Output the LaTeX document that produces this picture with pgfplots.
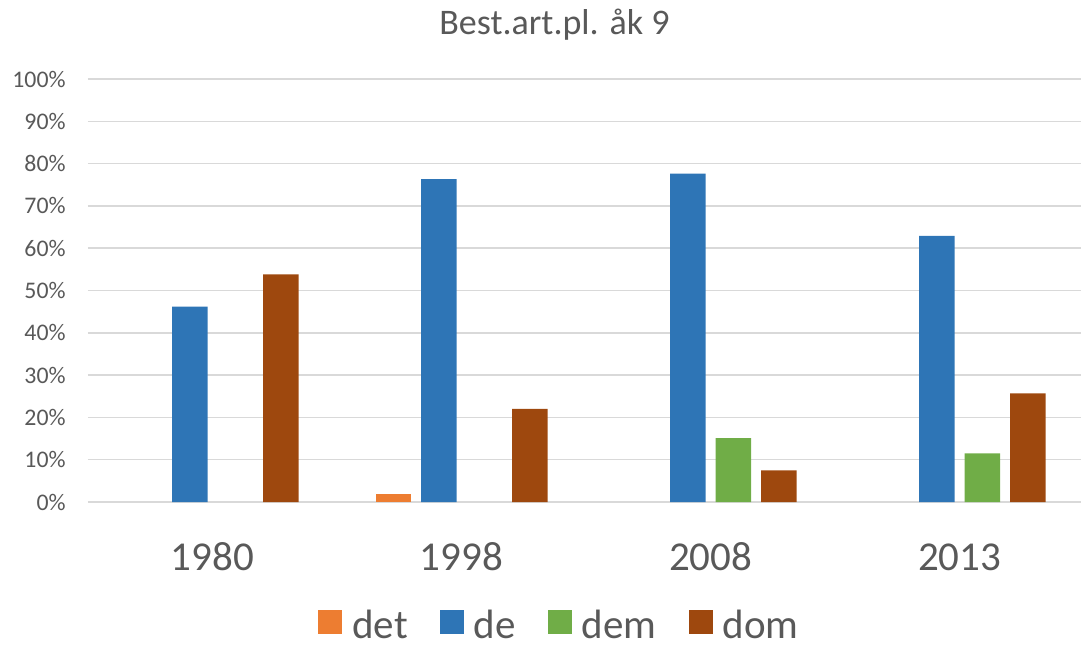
\documentclass[border=0pt]{standalone}
\usepackage{fontspec}
\setmainfont{Carlito}
\usepackage{pgfplots}
\pgfplotsset{compat=1.18}
\definecolor{cdet}{HTML}{ED7D31}
\definecolor{cde}{HTML}{2E75B6}
\definecolor{cdem}{HTML}{70AD47}
\definecolor{cdom}{HTML}{9E480E}
\definecolor{txt}{HTML}{595959}
\definecolor{gridc}{HTML}{D9D9D9}
\pgfplotsset{sq legend/.style={legend image code/.code={\fill[##1] (0pt,-4pt) rectangle (12pt,8pt);}}}
\begin{document}
\begin{tikzpicture}
\path[use as bounding box] (0,0) rectangle (540.5pt,324pt);
\node[anchor=base, text=txt, font=\fontsize{18}{21}\selectfont, inner sep=0pt] at (277.25pt,306.5pt) {Best.art.pl. åk 9};
\begin{axis}[
  at={(44pt,73pt)}, anchor=south west,
  scale only axis, width=496.5pt, height=211.5pt,
  xmin=-0.5, xmax=3.4875, ymin=0, ymax=100,
  ybar=5pt, bar width=17.75pt,
  axis line style={draw=none},
  major tick length=0pt,
  ymajorgrids, grid style={gridc, line width=0.75pt},
  ytick={0,10,...,100},
  yticklabels={0\%,10\%,20\%,30\%,40\%,50\%,60\%,70\%,80\%,90\%,100\%},
  yticklabel style={anchor=east, inner sep=0pt, xshift=-11pt, text=txt, font=\fontsize{11.9}{14}\selectfont},
  xtick={0,1,2,3},
  xticklabels={1980,1998,2008,2013},
  xticklabel style={anchor=base, inner sep=0pt, yshift=-34pt, text=txt, font=\fontsize{20.5}{24}\selectfont},
  legend columns=4,
  legend style={draw=none, fill=none, text=txt, font=\fontsize{20.5}{24}\selectfont,
    at={(axis description cs:0.4758,-0.2920)}, anchor=center, inner sep=0pt,
    nodes={inner ysep=1pt},
    /tikz/every odd column/.append style={column sep=3pt},
    /tikz/every even column/.append style={column sep=14pt}},
]
\addplot[fill=cdet, draw=none, sq legend] coordinates {(1,1.9)};
\addlegendentry{det}
\addplot[fill=cde, draw=none, sq legend] coordinates {(0,46.2) (1,76.3) (2,77.6) (3,62.9)};
\addlegendentry{de}
\addplot[fill=cdem, draw=none, sq legend] coordinates {(2,15.1) (3,11.5)};
\addlegendentry{dem}
\addplot[fill=cdom, draw=none, sq legend] coordinates {(0,53.8) (1,22.0) (2,7.5) (3,25.7)};
\addlegendentry{dom}
\end{axis}
\end{tikzpicture}
\end{document}
